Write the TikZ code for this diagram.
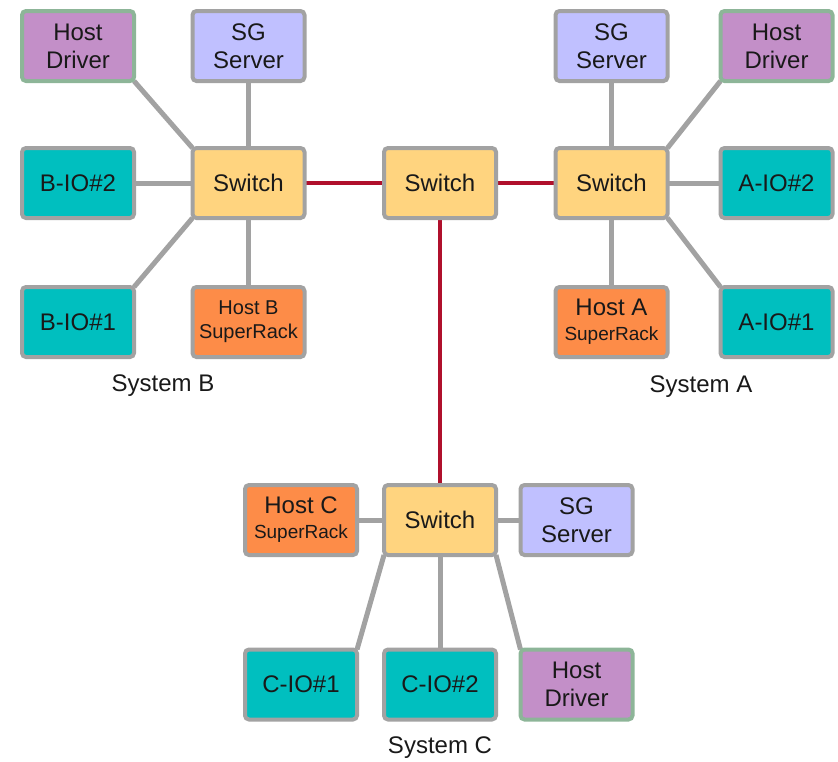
\documentclass[tikz,border=0pt]{standalone}
\usepackage{fontspec}
\setmainfont{Liberation Sans}
\usepackage{xcolor}
\usetikzlibrary{positioning,backgrounds}

\definecolor{edgegray}{HTML}{A2A2A2}
\definecolor{drvedge}{HTML}{8DB598}
\definecolor{drvfill}{HTML}{C38FC8}
\definecolor{sgfill}{HTML}{C0C0FF}
\definecolor{iofill}{HTML}{00BFBF}
\definecolor{swfill}{HTML}{FFD47F}
\definecolor{rackfill}{HTML}{FD8C48}
\definecolor{trunkred}{HTML}{B0102C}

\tikzset{
    box/.style={draw=edgegray, line width=4pt, rounded corners=4pt,
        minimum width=112pt, minimum height=70pt, inner sep=0pt, outer sep=0pt,
        align=center, text=black!90, font=\fontsize{24}{28}\selectfont},
    drvbox/.style={box, draw=drvedge, fill=drvfill},
    sgbox/.style={box, fill=sgfill},
    iobox/.style={box, fill=iofill},
    swbox/.style={box, fill=swfill},
    rackbox/.style={box, fill=rackfill},
    link/.style={draw=edgegray, line width=5pt},
    trunk/.style={draw=trunkred, line width=4pt},
    syslabel/.style={font=\fontsize{24}{28}\selectfont, text=black!90}
}

\newcommand{\racktext}[1]{{\fontsize{24}{28}\selectfont #1}\\[-3pt]{\fontsize{19}{22}\selectfont SuperRack}}

\begin{document}
\begin{tikzpicture}[x=1pt, y=-1pt, node distance=67pt and 58.5pt]
    \useasboundingbox (0,0) rectangle (838,761);

    % System B
    \node [swbox] (swB) at (248.5,183) {Switch};
    \node [sgbox, above=of swB] (sgB) {SG\\Server};
    \node [rackbox, below=69pt of swB, font=\fontsize{20}{24}\selectfont] (hostB) {Host B\\SuperRack};
    \node [iobox, left=of swB] (ioB2) {B-IO\#2};
    \node [drvbox, above=of ioB2] (hdB) {Host\\Driver};
    \node [iobox, below=69pt of ioB2] (ioB1) {B-IO\#1};
    \node [syslabel] (sysB) at (163,386) {System B};

    % middle switch
    \node [swbox] (swM) at (440,183) {Switch};

    % System A
    \node [swbox] (swA) at (611.5,183) {Switch};
    \node [sgbox, above=of swA] (sgA) {SG\\Server};
    \node [rackbox, below=69pt of swA] (hostA) {\racktext{Host A}};
    \node [iobox, right=53pt of swA] (ioA2) {A-IO\#2};
    \node [drvbox, above=of ioA2] (hdA) {Host\\Driver};
    \node [iobox, below=69pt of ioA2] (ioA1) {A-IO\#1};
    \node [syslabel] (sysA) at (701,387) {System A};

    % System C
    \node [swbox] (swC) at (440,520) {Switch};
    \node [rackbox, left=27pt of swC] (hostC) {\racktext{Host C}};
    \node [sgbox, right=24.5pt of swC] (sgC) {SG\\Server};
    \node [iobox, below=94.5pt of swC] (ioC2) {C-IO\#2};
    \node [iobox, left=27pt of ioC2] (ioC1) {C-IO\#1};
    \node [drvbox, right=24.5pt of ioC2] (hdC) {Host\\Driver};
    \node [syslabel] (sysC) at (440,748) {System C};

    \begin{scope}[on background layer]
        % links inside each system
        \draw [link] (swB.north) -- (sgB.south);
        \draw [link] (swB.south) -- (hostB.north);
        \draw [link] (swB.west) -- (ioB2.east);
        \draw [link] (swB.north west) -- (hdB.south east);
        \draw [link] (swB.south west) -- (ioB1.north east);

        \draw [link] (swA.north) -- (sgA.south);
        \draw [link] (swA.south) -- (hostA.north);
        \draw [link] (swA.east) -- (ioA2.west);
        \draw [link] (swA.north east) -- (hdA.south west);
        \draw [link] (swA.south east) -- (ioA1.north west);

        \draw [link] (swC.west) -- (hostC.east);
        \draw [link] (swC.east) -- (sgC.west);
        \draw [link] (swC.south) -- (ioC2.north);
        \draw [link] (swC.south west) -- (ioC1.north east);
        \draw [link] (swC.south east) -- (hdC.north west);

        % trunks between switches
        \draw [trunk] (swB.east) -- (swM.west);
        \draw [trunk] (swM.east) -- (swA.west);
        \draw [trunk] (swM.south) -- (swC.north);
    \end{scope}
\end{tikzpicture}
\end{document}
